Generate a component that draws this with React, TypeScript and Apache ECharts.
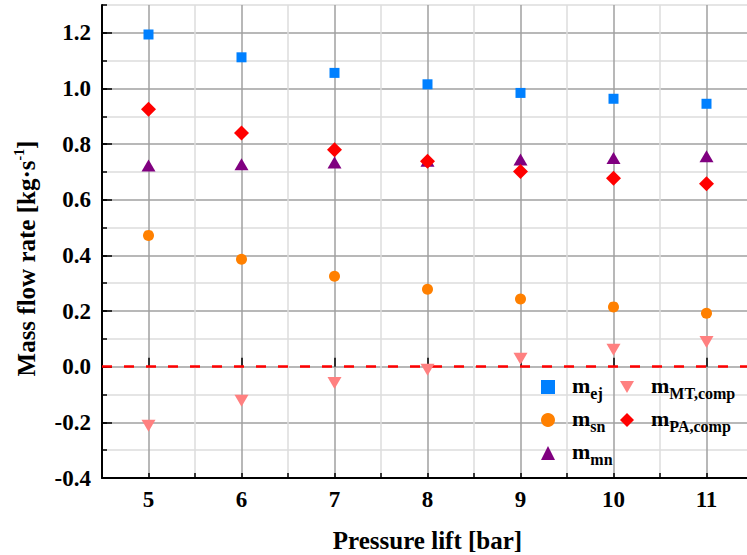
import React, { useEffect, useRef } from "react";
import * as echarts from "echarts";

const pressure = [5, 6, 7, 8, 9, 10, 11];
const mEj = [1.194, 1.112, 1.056, 1.015, 0.984, 0.963, 0.945];
const mSn = [0.472, 0.386, 0.325, 0.278, 0.243, 0.215, 0.192];
const mMn = [0.723, 0.728, 0.734, 0.740, 0.745, 0.750, 0.756];
const mMT = [-0.212, -0.122, -0.059, -0.011, 0.029, 0.061, 0.089];
const mPA = [0.925, 0.840, 0.780, 0.738, 0.702, 0.677, 0.658];

const yMajorTicks = [-0.4, -0.2, 0, 0.2, 0.4, 0.6, 0.8, 1.0, 1.2];
const xMajorTicks = [5, 6, 7, 8, 9, 10, 11];

const FONT = '"Liberation Serif", "Times New Roman", serif';

const subs: Record<string, string> = {
  ej: "ej",
  sn: "sn",
  mn: "mn",
  "MT,comp": "MT,comp",
  "PA,comp": "PA,comp",
};

const downTri = "path://M0,0 L14,0 L7,12 Z";

export default function App() {
  const ref = useRef<HTMLDivElement>(null);
  useEffect(() => {
    if (!ref.current) return;
    const chart = echarts.init(ref.current, undefined, { renderer: "svg" });
    const pair = (ys: number[]) => pressure.map((x, i) => [x, ys[i]]);
    const legendRich = {
      m: {
        fontFamily: FONT,
        fontWeight: "bold",
        fontSize: 22,
        lineHeight: 22,
        color: "#000",
        padding: [2, 0, 6, 12],
      },
      s: {
        fontFamily: FONT,
        fontWeight: "bold",
        fontSize: 16,
        lineHeight: 16,
        color: "#000",
        padding: [13, 0, 1, 0],
      },
    };
    const legendBase = {
      orient: "vertical",
      itemWidth: 14,
      itemHeight: 14,
      itemGap: 3,
      padding: 0,
      formatter: (name: string) => `{m|m}{s|${subs[name]}}`,
      textStyle: { rich: legendRich },
      itemStyle: { opacity: 1 },
    };
    const markerStyle = (color: string) => ({ color, opacity: 1 });
    chart.setOption({
      animation: false,
      backgroundColor: "#fff",
      grid: {
        left: 102,
        right: -6,
        top: 5,
        bottom: 77,
        containLabel: false,
        outerBoundsMode: "none",
      },
      legend: [
        {
          ...legendBase,
          left: 541,
          top: 372,
          data: [
            { name: "ej", icon: "rect" },
            { name: "sn", icon: "circle" },
            { name: "mn", icon: "triangle" },
          ],
        },
        {
          ...legendBase,
          left: 620,
          top: 372,
          data: [
            { name: "MT,comp", icon: downTri },
            { name: "PA,comp", icon: "diamond" },
          ],
        },
      ],
      xAxis: [
        {
          type: "value",
          min: 4.5,
          max: 11.5,
          interval: 0.5,
          position: "bottom",
          name: "Pressure lift [bar]",
          nameLocation: "middle",
          nameGap: 50,
          nameTextStyle: {
            fontFamily: FONT,
            fontWeight: "bold",
            fontSize: 25,
            color: "#000",
          },
          axisLine: { show: true, onZero: false, lineStyle: { color: "#000", width: 2 } },
          axisTick: { show: true, inside: true, length: 5, lineStyle: { color: "#000", width: 1.5 } },
          axisLabel: {
            show: true,
            margin: 10,
            fontFamily: FONT,
            fontWeight: "bold",
            fontSize: 23,
            color: "#000",
            formatter: (v: number) => (Number.isInteger(v) ? String(v) : ""),
          },
          splitLine: {
            show: true,
            lineStyle: { color: ["#dcdcdc", "#a0a0a0"], width: 1.5 },
          },
        },
        {
          type: "value",
          min: 4.5,
          max: 11.5,
          interval: 0.5,
          position: "bottom",
          axisLine: { show: false },
          axisTick: {
            show: true,
            inside: true,
            length: 9,
            customValues: xMajorTicks,
            lineStyle: { color: "#000", width: 1.5 },
          },
          axisLabel: { show: false },
          splitLine: { show: false },
        },
      ],
      yAxis: [
        {
          type: "value",
          min: -0.4,
          max: 1.3,
          interval: 0.1,
          position: "left",
          axisLine: { show: true, onZero: false, lineStyle: { color: "#000", width: 2 } },
          axisTick: { show: true, inside: true, length: 5, lineStyle: { color: "#000", width: 1.5 } },
          axisLabel: { show: false },
          splitLine: {
            show: true,
            lineStyle: { color: ["#a0a0a0", "#dcdcdc"], width: 1.5 },
          },
        },
        {
          type: "value",
          min: -0.4,
          max: 1.3,
          interval: 0.2,
          position: "left",
          name: "Mass flow rate [kg·s{sup|-1}]",
          nameLocation: "middle",
          nameGap: 62,
          nameTextStyle: {
            fontFamily: FONT,
            fontWeight: "bold",
            fontSize: 25,
            lineHeight: 28,
            color: "#000",
            padding: [0, 34, 0, 0],
            rich: {
              sup: {
                fontFamily: FONT,
                fontWeight: "bold",
                fontSize: 14,
                lineHeight: 14,
                padding: [0, 0, 14, 0],
                color: "#000",
              },
            },
          },
          axisLine: { show: false },
          axisTick: {
            show: true,
            inside: true,
            length: 10,
            customValues: yMajorTicks,
            lineStyle: { color: "#000", width: 1.5 },
          },
          axisLabel: {
            show: true,
            margin: 11,
            customValues: yMajorTicks,
            fontFamily: FONT,
            fontWeight: "bold",
            fontSize: 23,
            color: "#000",
            formatter: (v: number) => v.toFixed(1),
          },
          splitLine: { show: false },
        },
      ],
      series: [
        {
          name: "ej",
          type: "scatter",
          data: pair(mEj),
          symbol: "rect",
          symbolSize: 10,
          itemStyle: markerStyle("#0080ff"),
          z: 3,
          markLine: {
            silent: true,
            symbol: "none",
            label: { show: false },
            lineStyle: { color: "#ff0000", type: [10, 12], width: 2.5, opacity: 1 },
            data: [{ yAxis: 0 }],
            z: 1,
          },
        },
        {
          name: "sn",
          type: "scatter",
          data: pair(mSn),
          symbol: "circle",
          symbolSize: 11,
          itemStyle: markerStyle("#ff8000"),
          z: 3,
        },
        {
          name: "mn",
          type: "scatter",
          data: pair(mMn),
          symbol: "triangle",
          symbolSize: [14, 12],
          itemStyle: markerStyle("#800080"),
          z: 3,
        },
        {
          name: "MT,comp",
          type: "scatter",
          data: pair(mMT),
          symbol: downTri,
          symbolSize: [14, 12],
          itemStyle: markerStyle("#ff8080"),
          z: 3,
        },
        {
          name: "PA,comp",
          type: "scatter",
          data: pair(mPA),
          symbol: "diamond",
          symbolSize: 15,
          itemStyle: markerStyle("#ff0000"),
          z: 4,
        },
      ],
    });
    return () => chart.dispose();
  }, []);
  return (
    <div
      ref={ref}
      style={{ position: "fixed", left: 0, top: 0, width: 747, height: 555 }}
    />
  );
}
